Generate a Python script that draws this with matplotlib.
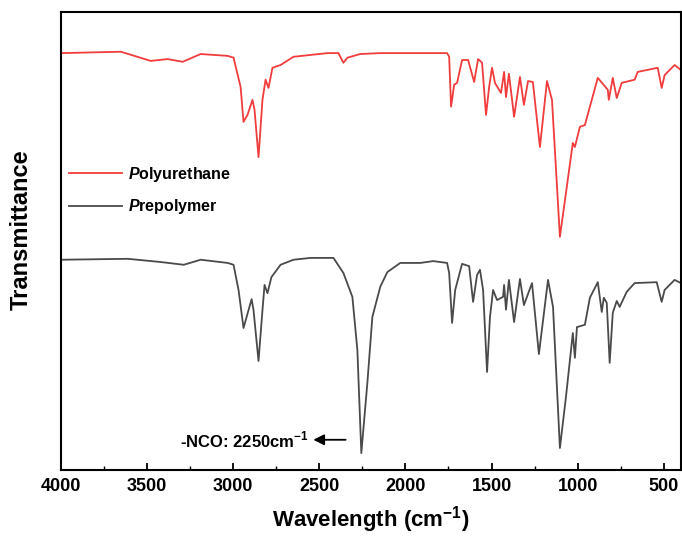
# FTIR spectra: polyurethane vs prepolymer

import matplotlib.pyplot as plt
from matplotlib.ticker import MultipleLocator

plt.rcParams['font.family'] = 'Liberation Sans'
plt.rcParams['mathtext.fontset'] = 'custom'
plt.rcParams['mathtext.rm'] = 'Liberation Sans:bold'
plt.rcParams['mathtext.bfit'] = 'Liberation Sans:italic:bold'

# wavenumber (cm-1) and transmittance (a.u., offset)
pu_wn = [4000, 3652, 3479, 3380, 3293, 3189, 3032, 2998, 2957, 2940, 2917, 2888,
         2876, 2853, 2830, 2812, 2795, 2772, 2725, 2650, 2453, 2389, 2360, 2337,
         2262, 2146, 2013, 1758, 1746, 1735, 1717, 1700, 1671, 1636, 1601, 1578,
         1555, 1532, 1514, 1497, 1480, 1445, 1427, 1416, 1399, 1369, 1335, 1312,
         1288, 1260, 1219, 1178, 1149, 1103, 1063, 1028, 1016, 987, 958, 883,
         825, 819, 796, 773, 744, 669, 651, 535, 512, 495, 437, 400]
pu_t = [91.0, 91.3, 89.3, 89.7, 89.1, 90.8, 90.4, 90.0, 83.6, 76.0, 77.5, 80.8,
        78.6, 68.3, 80.8, 85.2, 83.4, 87.8, 88.4, 90.2, 91.0, 91.0, 88.9, 90.0,
        90.8, 91.0, 91.0, 91.0, 90.2, 79.3, 84.1, 84.5, 89.5, 89.5, 84.7, 89.7,
        88.9, 77.5, 83.6, 87.8, 84.5, 82.3, 86.9, 81.4, 86.5, 77.1, 85.8, 79.7,
        84.9, 84.7, 70.5, 84.9, 80.8, 50.9, 61.8, 71.4, 70.5, 74.9, 75.3, 85.6,
        83.0, 80.8, 85.6, 81.2, 84.5, 85.2, 86.9, 87.8, 83.4, 86.2, 88.4, 87.3]

pre_wn = [4000, 3612, 3421, 3287, 3189, 3032, 2998, 2969, 2940, 2911, 2893, 2882,
          2853, 2830, 2818, 2801, 2778, 2725, 2650, 2551, 2418, 2360, 2308, 2279,
          2256, 2221, 2192, 2146, 2105, 2030, 1914, 1839, 1758, 1746, 1729, 1711,
          1671, 1630, 1607, 1584, 1567, 1549, 1526, 1509, 1491, 1468, 1433, 1427,
          1416, 1399, 1369, 1335, 1312, 1265, 1225, 1172, 1143, 1103, 1068, 1028,
          1016, 1004, 958, 929, 883, 860, 848, 831, 814, 796, 773, 756, 715, 669,
          541, 512, 495, 437, 400]
pre_t = [45.9, 46.1, 45.4, 44.8, 45.9, 45.2, 44.8, 39.3, 31.0, 34.9, 37.3, 34.9,
         23.8, 34.9, 40.4, 38.6, 42.1, 44.8, 45.9, 46.3, 46.3, 43.0, 37.8, 26.2,
         3.7, 19.0, 33.4, 40.0, 43.2, 45.2, 45.2, 45.6, 45.2, 43.0, 32.1, 39.3,
         45.0, 44.5, 36.7, 42.6, 43.7, 39.3, 21.4, 33.4, 39.3, 37.1, 37.8, 40.4,
         35.0, 41.5, 32.3, 41.7, 36.0, 40.8, 25.3, 41.5, 35.6, 4.8, 15.9, 29.9,
         24.5, 31.2, 31.7, 37.6, 41.0, 34.5, 37.6, 36.5, 23.4, 34.3, 36.9, 35.6,
         38.9, 40.8, 41.0, 36.7, 39.3, 41.5, 40.8]

fig = plt.figure(figsize=(6.82, 5.4), dpi=100)
ax = fig.add_axes([0.0894, 0.1296, 0.9091, 0.8484])

ax.plot(pu_wn, pu_t, color='#f03c3c', lw=1.3, label=r'$\mathbfit{P}$olyurethane')
ax.plot(pre_wn, pre_t, color='#4a4a4a', lw=1.3, label=r'$\mathbfit{P}$repolymer')

ax.annotate('', xy=(2551, 6.6), xytext=(2331, 6.6),
            arrowprops=dict(arrowstyle='-|>', color='black', lw=1.3,
                            mutation_scale=16))
ax.text(2563, 6.6, r'-NCO: 2250cm$^{-1}$', ha='right', va='center',
        fontsize=12, fontweight='bold')

ax.set_xlim(4000, 400)
ax.set_ylim(0, 100)
ax.xaxis.set_major_locator(MultipleLocator(500))
ax.xaxis.set_minor_locator(MultipleLocator(250))
ax.tick_params(axis='x', which='major', direction='in', length=5, width=1.3,
               labelsize=13, pad=6)
ax.tick_params(axis='x', which='minor', direction='in', length=3, width=1.0)
ax.set_yticks([])
for lab in ax.get_xticklabels():
    lab.set_fontweight('bold')
for s in ax.spines.values():
    s.set_linewidth(1.5)

ax.set_xlabel(r'Wavelength (cm$^{\mathregular{-1}}$)', fontsize=16,
              fontweight='bold', labelpad=6)
ax.set_ylabel('Transmittance', fontsize=17, fontweight='bold')
ax.yaxis.set_label_coords(-0.046, 0.524)

leg = ax.legend(loc='center left', bbox_to_anchor=(-0.01, 0.61), frameon=False,
                handlelength=3.3, handletextpad=0.4, fontsize=11.5,
                labelspacing=0.85)
for t in leg.get_texts():
    t.set_fontweight('bold')

fig.savefig('out.png', dpi=100)
